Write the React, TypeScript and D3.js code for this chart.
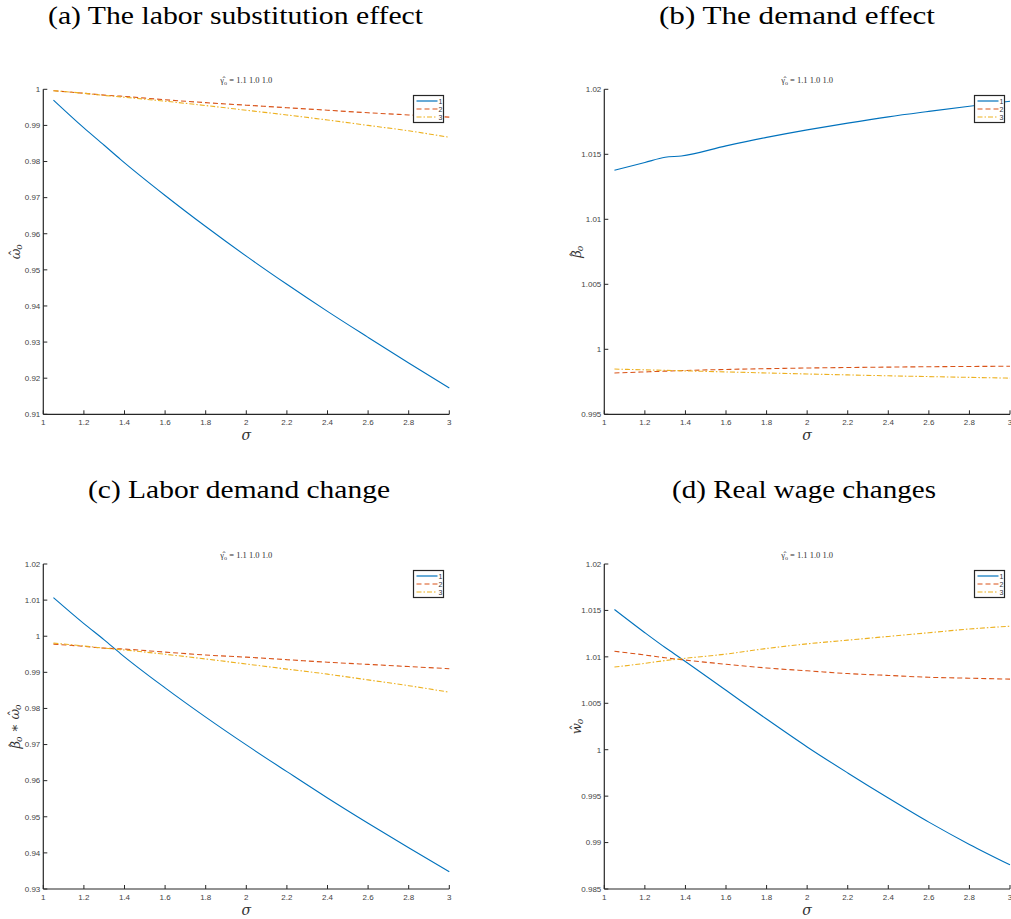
import React from "react";
import * as d3 from "d3";

const sigma = [1.05, 1.2, 1.3, 1.38, 1.6, 1.8, 2.0, 2.2, 2.4, 2.6, 2.8, 3.0];

// (a) omega hat
const omega1 = [0.997, 0.9893, 0.9845, 0.9806, 0.9706, 0.962, 0.9538, 0.946, 0.9385, 0.9313, 0.9242, 0.9173];
const omega2 = [0.9996, 0.9989, 0.9984, 0.9981, 0.9971, 0.9963, 0.9956, 0.9949, 0.9942, 0.9935, 0.9929, 0.9923];
const omega3 = [0.9996, 0.9989, 0.9983, 0.9979, 0.9967, 0.9955, 0.9942, 0.9929, 0.9915, 0.99, 0.9885, 0.9867];

// (b) beta hat
const beta1 = [1.01377, 1.01437, 1.01477, 1.01487, 1.01565, 1.0163, 1.01688, 1.0174, 1.01788, 1.0183, 1.0187, 1.01908];
const beta2 = [0.99818, 0.99826, 0.99832, 0.99836, 0.99845, 0.99851, 0.99856, 0.9986, 0.99863, 0.99866, 0.99868, 0.9987];
const beta3 = [0.99848, 0.99842, 0.99838, 0.99835, 0.99826, 0.99818, 0.9981, 0.99803, 0.99796, 0.9979, 0.99784, 0.99778];

// (c) beta * omega
const prod1 = [1.0107, 1.0035, 0.999, 0.9952, 0.9857, 0.9776, 0.9699, 0.9625, 0.9552, 0.9482, 0.9414, 0.9348];
const prod2 = [0.9978, 0.9972, 0.9967, 0.9965, 0.9956, 0.9948, 0.9942, 0.9935, 0.9928, 0.9922, 0.9916, 0.991];
const prod3 = [0.9981, 0.9973, 0.9967, 0.9963, 0.995, 0.9937, 0.9923, 0.9909, 0.9895, 0.9879, 0.9863, 0.9845];

// (d) real wage
const wage1 = [1.0151, 1.0126, 1.011, 1.0098, 1.0064, 1.0033, 1.0003, 0.9975, 0.9948, 0.9922, 0.9898, 0.9876];
const wage2 = [1.0106, 1.0102, 1.0099, 1.0097, 1.0092, 1.0088, 1.0085, 1.0082, 1.008, 1.0078, 1.0077, 1.0076];
const wage3 = [1.0089, 1.0093, 1.0096, 1.0098, 1.0103, 1.0109, 1.0114, 1.0118, 1.0122, 1.0126, 1.013, 1.0133];

const xTicks = [1, 1.2, 1.4, 1.6, 1.8, 2, 2.2, 2.4, 2.6, 2.8, 3];
const yTicksA = [0.91, 0.92, 0.93, 0.94, 0.95, 0.96, 0.97, 0.98, 0.99, 1];
const yTicksB = [0.995, 1, 1.005, 1.01, 1.015, 1.02];
const yTicksC = [0.93, 0.94, 0.95, 0.96, 0.97, 0.98, 0.99, 1, 1.01, 1.02];
const yTicksD = [0.985, 0.99, 0.995, 1, 1.005, 1.01, 1.015, 1.02];
const legendLabels = ["1", "2", "3"];

const colors = ["#0072BD", "#D95319", "#EDB120"];
const dashes = [undefined, "5,3", "5,2,1.5,2"];

const fmt = (v: number) => String(+v.toFixed(3));

type Part = { t: string; hat?: boolean; sub?: boolean };

function Label({ parts }: { parts: Part[] }) {
  const out: React.ReactNode[] = [];
  let lowered = false;
  parts.forEach((p, i) => {
    if (p.sub) {
      out.push(<tspan key={i} fontSize={9} dy={lowered ? 0 : 3}>{p.t}</tspan>);
      lowered = true;
    } else {
      const dy = lowered ? -3 : 0;
      lowered = false;
      out.push(<tspan key={i} dy={dy}>{p.t}</tspan>);
      if (p.hat) {
        out.push(<tspan key={i + "h"} dx={-7.5} dy={-1} fontStyle="normal">ˆ</tspan>);
        out.push(<tspan key={i + "r"} dx={0.5} dy={1}>{""}</tspan>);
      }
    }
  });
  return <>{out}</>;
}

type PanelProps = {
  left: number; right: number; top: number; bottom: number;
  yDomain: [number, number]; yTicks: number[];
  series: number[][];
  title: string; titleX: number; titleY: number; titleLen: number;
  ylabel: Part[];
};

function Panel(p: PanelProps) {
  const x = d3.scaleLinear().domain([1, 3]).range([p.left, p.right]);
  const y = d3.scaleLinear().domain(p.yDomain).range([p.bottom, p.top]);
  const line = d3.line<number>().x((_, i) => x(sigma[i])).y((d) => y(d)).curve(d3.curveMonotoneX);
  const axisColor = "#262626";
  const lgX = Math.round(p.right - 36) + 0.5;
  const lgY = Math.round(p.top + 6) + 0.5;
  const cx = (p.left + p.right) / 2;
  return (
    <g>
      <text x={p.titleX} y={p.titleY} textAnchor="middle" fontFamily="'Liberation Serif', serif" fontSize={26}
        textLength={p.titleLen} lengthAdjust="spacingAndGlyphs" fill="#000">{p.title}</text>
      <text x={cx} y={p.top - 6} textAnchor="middle" fontFamily="'Liberation Serif', serif" fontSize={8.5} fill="#333">
        γ̂<tspan fontSize={6} dy={2}>o</tspan><tspan dy={-2}> = 1.1 1.0 1.0</tspan>
      </text>
      {/* axes */}
      <line x1={p.left} x2={p.left} y1={p.top} y2={p.bottom} stroke={axisColor} strokeWidth={1.2} />
      <line x1={p.left} x2={p.right} y1={p.bottom} y2={p.bottom} stroke={axisColor} strokeWidth={1.2} />
      {p.yTicks.map((t) => (
        <g key={"y" + t}>
          <line x1={p.left} x2={p.left + 4} y1={y(t)} y2={y(t)} stroke={axisColor} strokeWidth={1} />
          <text x={p.left - 3} y={y(t) + 2.8} textAnchor="end" fontFamily="'Liberation Sans', Arial, sans-serif" fontSize={8} fill="#444">{fmt(t)}</text>
        </g>
      ))}
      {xTicks.map((t) => (
        <g key={"x" + t}>
          <line x1={x(t)} x2={x(t)} y1={p.bottom} y2={p.bottom - 4} stroke={axisColor} strokeWidth={1} />
          <text x={x(t)} y={p.bottom + 11} textAnchor="middle" fontFamily="'Liberation Sans', Arial, sans-serif" fontSize={8} fill="#444">{fmt(t)}</text>
        </g>
      ))}
      <text x={cx} y={p.bottom + 26} textAnchor="middle" fontFamily="'DejaVu Serif', serif" fontStyle="italic" fontSize={14} fill="#333">σ</text>
      <g transform={`translate(${p.left - 23},${(p.top + p.bottom) / 2}) rotate(-90)`}>
        <text x={0} y={0} textAnchor="middle" fontFamily="'DejaVu Serif', serif" fontStyle="italic" fontSize={13} fill="#333">
          <Label parts={p.ylabel} />
        </text>
      </g>
      {/* lines */}
      {p.series.map((s, i) => (
        <path key={"s" + i} d={line(s) || ""} fill="none" stroke={colors[i]} strokeWidth={1.1} strokeDasharray={dashes[i]} />
      ))}
      {/* legend */}
      <rect x={lgX} y={lgY} width={30} height={27} fill="#fff" stroke="#262626" strokeWidth={1.2} />
      {legendLabels.map((lab, i) => (
        <g key={"lg" + i}>
          <line x1={lgX + 3} x2={lgX + 24} y1={lgY + 5.5 + i * 8} y2={lgY + 5.5 + i * 8} stroke={colors[i]} strokeWidth={1.2} strokeDasharray={dashes[i]} />
          <text x={lgX + 25} y={lgY + 8 + i * 8} fontFamily="'Liberation Sans', Arial, sans-serif" fontSize={7} fill="#333">{lab}</text>
        </g>
      ))}
    </g>
  );
}

export default function App() {
  return (
    <svg width={1011} height={919} style={{ position: "absolute", left: 0, top: 0, background: "#fff" }}>
      <Panel left={43.3} right={449.3} top={89.3} bottom={414.3} yDomain={[0.91, 1]} yTicks={yTicksA}
        series={[omega1, omega2, omega3]} title="(a) The labor substitution effect" titleX={235.5} titleY={24} titleLen={375}
        ylabel={[{ t: "ω", hat: true }, { t: "o", sub: true }]} />
      <Panel left={604.3} right={1010} top={89.3} bottom={414.3} yDomain={[0.995, 1.02]} yTicks={yTicksB}
        series={[beta1, beta2, beta3]} title="(b) The demand effect" titleX={797} titleY={24} titleLen={276}
        ylabel={[{ t: "β", hat: true }, { t: "o", sub: true }]} />
      <Panel left={43.3} right={449.3} top={564} bottom={889} yDomain={[0.93, 1.02]} yTicks={yTicksC}
        series={[prod1, prod2, prod3]} title="(c) Labor demand change" titleX={239} titleY={498} titleLen={302}
        ylabel={[{ t: "β", hat: true }, { t: "o", sub: true }, { t: " ∗ " }, { t: "ω", hat: true }, { t: "o", sub: true }]} />
      <Panel left={604.3} right={1010} top={564} bottom={889} yDomain={[0.985, 1.02]} yTicks={yTicksD}
        series={[wage1, wage2, wage3]} title="(d) Real wage changes" titleX={804} titleY={498} titleLen={264}
        ylabel={[{ t: "w", hat: true }, { t: "o", sub: true }]} />
    </svg>
  );
}
